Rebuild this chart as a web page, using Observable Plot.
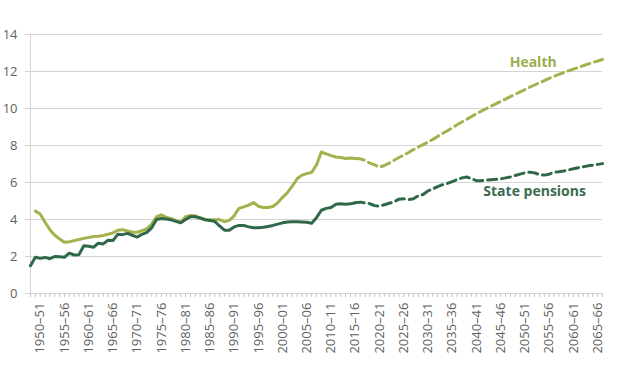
<!DOCTYPE html>
<html>
<head>
<meta charset="utf-8">
<script src="https://cdn.jsdelivr.net/npm/d3@7"></script>
<script src="https://cdn.jsdelivr.net/npm/@observablehq/plot@0.6"></script>
<style>
  html, body { margin: 0; padding: 0; background: #fff; }
</style>
</head>
<body>
<div id="chart"></div>
<script>
// Outturn: fiscal years starting 1948 (1948–49) to 2015 (2015–16), % of GDP
const outturnYears = d3.range(1948, 2016);
const healthOutturn = [
  null, 4.45, 4.3, 3.85, 3.45, 3.15, 2.95, 2.77, 2.8, 2.86,
  2.92, 2.98, 3.03, 3.08, 3.1, 3.14, 3.2, 3.28, 3.42, 3.45,
  3.38, 3.32, 3.31, 3.4, 3.5, 3.75, 4.15, 4.25, 4.12, 4.05,
  3.95, 3.85, 4.15, 4.22, 4.2, 4.08, 4.02, 3.98, 3.98, 4.0,
  3.88, 3.95, 4.2, 4.6, 4.68, 4.78, 4.92, 4.72, 4.65, 4.65,
  4.7, 4.9, 5.2, 5.45, 5.8, 6.2, 6.4, 6.48, 6.55, 6.95,
  7.65, 7.55, 7.45, 7.38, 7.35, 7.3, 7.33, 7.3
];
const pensionsOutturn = [
  1.5, 1.96, 1.9, 1.95, 1.88, 2.0, 1.98, 1.96, 2.18, 2.08,
  2.1, 2.58, 2.55, 2.5, 2.72, 2.68, 2.88, 2.86, 3.2, 3.18,
  3.25, 3.15, 3.05, 3.2, 3.3, 3.55, 4.0, 4.05, 4.03, 3.98,
  3.9, 3.82, 4.0, 4.15, 4.15, 4.08, 3.98, 3.95, 3.9, 3.65,
  3.42, 3.42, 3.6, 3.68, 3.68, 3.6, 3.55, 3.56, 3.58, 3.62,
  3.68, 3.75, 3.82, 3.86, 3.88, 3.88, 3.87, 3.85, 3.8, 4.1,
  4.5, 4.6, 4.65, 4.82, 4.85, 4.83, 4.85, 4.9
];

// Projection: 2015 (2015–16) to 2066 (2066–67)
const projectionYears = d3.range(2015, 2067);
const healthProjection = [
  7.3, 7.28, 7.2, 7.05, 6.95, 6.83, 6.92, 7.05, 7.2, 7.35,
  7.48, 7.62, 7.78, 7.92, 8.05, 8.18, 8.33, 8.49, 8.65, 8.8,
  8.96, 9.12, 9.27, 9.42, 9.57, 9.72, 9.86, 9.99, 10.12, 10.25,
  10.38, 10.51, 10.64, 10.77, 10.9, 11.02, 11.15, 11.27, 11.39, 11.51,
  11.63, 11.74, 11.84, 11.94, 12.04, 12.13, 12.22, 12.31, 12.4, 12.49,
  12.57, 12.65
];
const pensionsProjection = [
  4.9, 4.94, 4.9, 4.85, 4.75, 4.72, 4.8, 4.88, 4.95, 5.1,
  5.12, 5.07, 5.12, 5.28, 5.35, 5.55, 5.65, 5.78, 5.88, 5.95,
  6.05, 6.15, 6.25, 6.3, 6.2, 6.1, 6.1, 6.12, 6.15, 6.17,
  6.2, 6.25, 6.3, 6.38, 6.45, 6.52, 6.56, 6.52, 6.42, 6.4,
  6.45, 6.55, 6.58, 6.62, 6.68, 6.74, 6.8, 6.85, 6.9, 6.94,
  6.98, 7.02
];

const yTicks = [0, 2, 4, 6, 8, 10, 12, 14];
const xLabelYears = [1950, 1955, 1960, 1965, 1970, 1975, 1980, 1985, 1990, 1995, 2000, 2005,
  2010, 2015, 2020, 2025, 2030, 2035, 2040, 2045, 2050, 2055, 2060, 2065];
const xTickLabels = ["1950–51", "1955–56", "1960–61", "1965–66", "1970–71", "1975–76", "1980–81",
  "1985–86", "1990–91", "1995–96", "2000–01", "2005–06", "2010–11", "2015–16", "2020–21",
  "2025–26", "2030–31", "2035–36", "2040–41", "2045–46", "2050–51", "2055–56", "2060–61", "2065–66"];

const seriesLabels = [
  {text: "Health", year: 2051.7, value: 12.5, color: "#9cae4d"},
  {text: "State pensions", year: 2052, value: 5.5, color: "#3a6b50"}
];

const healthColor = "#a3b24d";
const pensionsColor = "#2f6849";

const outturn = outturnYears.map((year, i) => ({year, health: healthOutturn[i], pensions: pensionsOutturn[i]}));
const projection = projectionYears.map((year, i) => ({year, health: healthProjection[i], pensions: pensionsProjection[i]}));

const labelMap = new Map(xLabelYears.map((y, i) => [y, xTickLabels[i]]));

const chart = Plot.plot({
  width: 636,
  height: 382,
  marginLeft: 30,
  marginRight: 34,
  marginTop: 34,
  marginBottom: 89,
  x: {domain: [1948, 2066]},
  y: {domain: [0, 14]},
  style: {fontFamily: "'Open Sans', sans-serif", fontSize: "13px", color: "#606060", background: "#fff"},
  marks: [
    Plot.gridY(yTicks, {stroke: "#d4d4d4", strokeOpacity: 1, strokeWidth: 1, insetLeft: -5}),
    Plot.ruleX([1948], {stroke: "#d4d4d4", strokeWidth: 1}),
    Plot.axisY(yTicks, {tickSize: 0, tickPadding: 13, label: null, fontSize: 13}),
    Plot.axisX(d3.range(1948, 2067), {tickSize: 4, tickFormat: () => "", stroke: "#c4c4c4", label: null}),
    Plot.axisX(xLabelYears, {tickSize: 0, tickRotate: -90, tickPadding: 9, tickFormat: d => labelMap.get(d), label: null, fontSize: 13}),
    Plot.lineY(outturn, {x: "year", y: "health", stroke: healthColor, strokeWidth: 3, strokeLinejoin: "round", strokeLinecap: "round"}),
    Plot.lineY(outturn, {x: "year", y: "pensions", stroke: pensionsColor, strokeWidth: 3, strokeLinejoin: "round", strokeLinecap: "round"}),
    Plot.lineY(projection, {x: "year", y: "health", stroke: healthColor, strokeWidth: 3, strokeDasharray: "9,5"}),
    Plot.lineY(projection, {x: "year", y: "pensions", stroke: pensionsColor, strokeWidth: 3, strokeDasharray: "9,5"}),
    Plot.text(seriesLabels, {x: "year", y: "value", text: "text", fill: "color", fontSize: 14, fontWeight: 700, textAnchor: "middle"})
  ]
});

document.getElementById("chart").appendChild(chart);
</script>
</body>
</html>
